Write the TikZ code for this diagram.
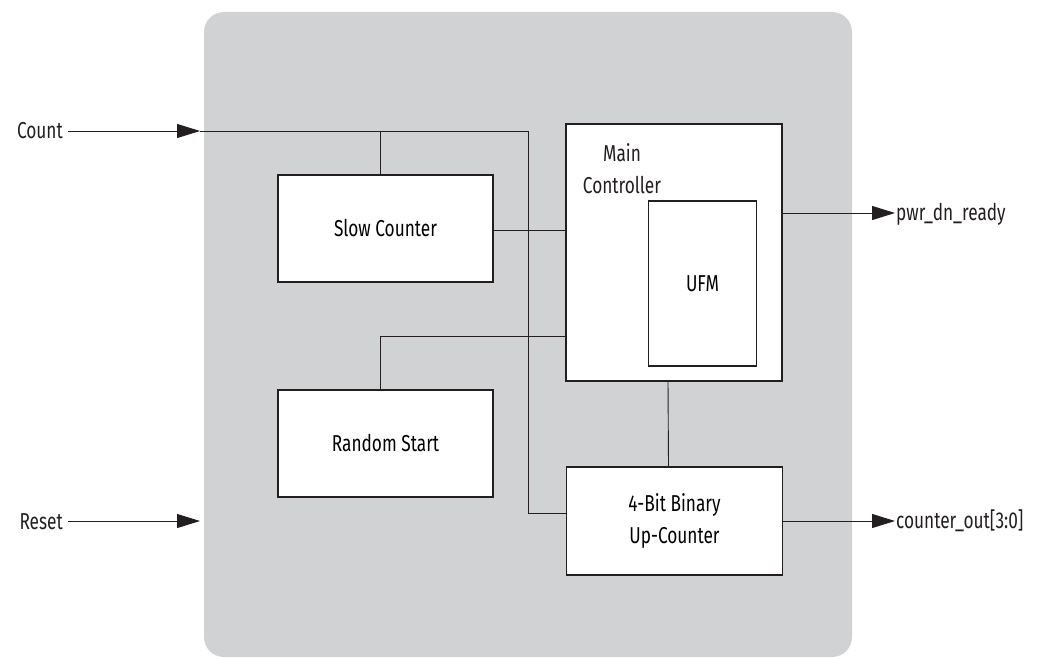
\documentclass[tikz,border=0pt]{standalone}
\usepackage{fontspec}
\setmainfont[FakeStretch=0.75]{Fira Sans}
\usetikzlibrary{arrows.meta}
\definecolor{panelgrey}{HTML}{D1D2D4}
\definecolor{ink}{HTML}{231F20}
\begin{document}
\begin{tikzpicture}[x=1pt,y=-1pt,
  font=\fontsize{23}{32}\selectfont,
  blk/.style={draw=ink, fill=white, line width=1.2pt, inner sep=0pt, align=center},
  wire/.style={draw=ink, line width=0.9pt},
  arr/.style={wire, -{Triangle[length=23pt,width=14pt]}},
  lbl/.style={text=ink, inner sep=0pt}]
\useasboundingbox (0,0) rectangle (1040,658);
\fill[panelgrey, rounded corners=20pt] (204,12) rectangle (852,657);

% blocks
\node[blk, minimum width=215pt, minimum height=107pt] (slow) at (385.5,228.5) {Slow Counter};
\node[blk, minimum width=215pt, minimum height=107pt] (rand) at (385.5,443.5) {Random Start};
\node[blk, minimum width=216pt, minimum height=257pt] (main) at (674,252.5) {};
\node[blk, minimum width=108pt, minimum height=165pt] (ufm) at (702.5,283.5) {UFM};
\node[lbl, align=center, anchor=base] (mainlbl) at (622,193) {Main\\Controller};
\node[blk, minimum width=216pt, minimum height=108pt] (bin) at (674.5,521) {4-Bit Binary\\Up-Counter};

% external labels
\node[lbl, anchor=base east, inner xsep=5pt] (count) at (68,139) {Count};
\node[lbl, anchor=base east, inner xsep=5pt] (reset) at (68,529) {Reset};
\node[lbl, anchor=base west, inner xsep=1pt] (pwr) at (895,220) {pwr\_dn\_ready};
\node[lbl, anchor=base west, inner xsep=1pt] (cout) at (895,528) {counter\_out[3:0]};

% coordinates
\coordinate (cin) at (200,131);
\coordinate (rin) at (200,521);
\coordinate (tap) at (528,131);
\coordinate (rj) at (567,336);
\coordinate (pwrtip) at (895,213);
\coordinate (couttip) at (895,521);

% inputs
\draw[arr] (count.east |- cin) -- (cin);
\draw[arr] (reset.east |- rin) -- (rin);
\draw[wire] (cin) -- (tap) |- ([yshift=8pt]bin.west);
\draw[wire] ([xshift=-5pt]slow.north) -- ([xshift=-5pt]slow.north |- cin);
\draw[wire] (slow.east |- 0,230) -- (main.west |- 0,230);
\draw[wire] ([xshift=-5pt]rand.north) |- (rj);
\draw[wire] ([xshift=-6pt]main.south) -- ([xshift=-6pt]bin.north);

% outputs
\draw[arr] (main.east |- pwrtip) -- (pwrtip);
\draw[arr] (bin.east) -- (couttip);
\end{tikzpicture}
\end{document}
